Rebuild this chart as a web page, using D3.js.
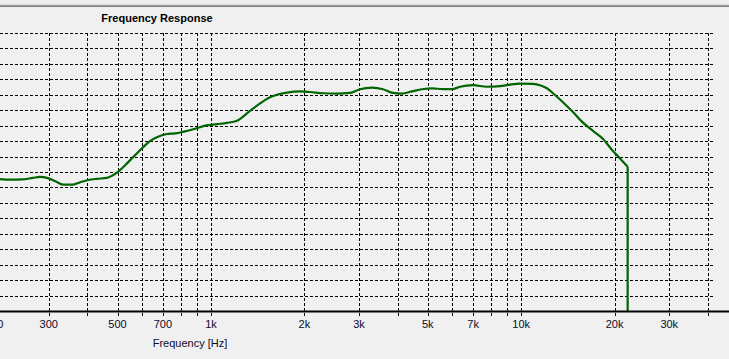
<!DOCTYPE html>
<html>
<head>
<meta charset="utf-8">
<script src="https://cdn.jsdelivr.net/npm/d3@7"></script>
<style>
  html, body { margin: 0; padding: 0; background: #f0f0f0; }
  svg { display: block; }
  text { font-family: "Liberation Sans", Arial, sans-serif; }
</style>
</head>
<body>
<svg id="chart" width="729" height="359"></svg>
<script>
var freqs = [209, 225, 246, 267, 281, 298, 314, 334, 357, 379, 402, 429, 462, 480, 498,
             529, 561, 600, 636, 675, 722, 766, 813, 889, 957, 1046, 1126, 1213, 1336, 1439,
             1527, 1632, 1758, 1936, 2086, 2297, 2548, 2806, 3022, 3304, 3585, 3862, 4128,
             4447, 4789, 5158, 5596, 5982, 6349, 6993, 7756, 8543, 9200, 9909, 10911, 11494,
             12105, 12656, 13633, 14682, 15817, 17034, 18346, 19759, 20809, 22032];
var levels = [62.7, 62.5, 62.6, 63.1, 63.4, 63.0, 62.1, 60.9, 60.9, 61.7, 62.4, 62.8, 63.1, 63.8, 64.8,
              67.2, 69.8, 72.7, 75.0, 76.4, 77.3, 77.5, 78.0, 79.0, 80.0, 80.5, 80.9, 81.6, 84.8, 87.2,
              88.9, 90.0, 90.7, 91.1, 90.9, 90.5, 90.4, 90.6, 91.8, 92.3, 91.8, 90.6, 90.4,
              91.1, 91.8, 92.1, 91.8, 91.8, 92.6, 93.1, 92.6, 92.8, 93.3, 93.6, 93.5, 93.1,
              92.1, 90.5, 87.6, 84.4, 81.0, 78.3, 75.7, 71.8, 69.4, 66.7];
// the response is cut off here and falls to the floor
var cutoffLevel = 20;

// axis ticks
var xGrid = [200, 300, 400, 500, 600, 700, 800, 900, 1000, 2000, 3000, 4000, 5000, 6000,
             7000, 8000, 9000, 10000, 20000, 30000, 40000];
var xLabelled = [200, 300, 500, 700, 1000, 2000, 3000, 5000, 7000, 10000, 20000, 30000];
var yGrid = d3.range(25, 111, 5);

var title = "Frequency Response";
var xTitle = "Frequency [Hz]";

var W = 729, H = 359;
var plot = {left: -44.7, right: 714.6, top: 33, bottom: 311};

var svg = d3.select("#chart");

// window separator at the top
svg.append("rect").attr("x", 0).attr("y", 4).attr("width", W).attr("height", 1).attr("fill", "#dadada");
svg.append("rect").attr("x", 0).attr("y", 5).attr("width", W).attr("height", 1).attr("fill", "#a0a0a0");
svg.append("rect").attr("x", 0).attr("y", 6).attr("width", W).attr("height", 1).attr("fill", "#808080");

var x = d3.scaleLog().domain([150, 42000]).range([plot.left, plot.right]);
var y = d3.scaleLinear().domain([20, 110]).range([plot.bottom, plot.top]);

// horizontal grid
svg.append("g").attr("class", "grid-y")
  .selectAll("line")
  .data(yGrid)
  .enter().append("line")
    .attr("x1", 0)
    .attr("x2", plot.right)
    .attr("y1", d => Math.round(y(d)) + 0.5)
    .attr("y2", d => Math.round(y(d)) + 0.5)
    .attr("stroke", "#000")
    .attr("stroke-dasharray", "3,2");

// vertical grid, running past the axis as tick marks
svg.append("g").attr("class", "grid-x")
  .selectAll("line")
  .data(xGrid)
  .enter().append("line")
    .attr("x1", d => Math.round(x(d)) + 0.5)
    .attr("x2", d => Math.round(x(d)) + 0.5)
    .attr("y1", plot.top)
    .attr("y2", plot.bottom + 6)
    .attr("stroke", "#000")
    .attr("stroke-dasharray", "3,2");

// x axis labels
var fmt = d => d >= 1000 ? (d / 1000) + "k" : String(d);
svg.append("g").attr("class", "axis-x")
  .selectAll("text")
  .data(xLabelled)
  .enter().append("text")
    .attr("x", d => x(d))
    .attr("y", plot.bottom + 17)
    .attr("text-anchor", "middle")
    .attr("font-size", "11px")
    .attr("fill", "#0c0c28")
    .text(fmt);

// data
var pts = freqs.map((f, i) => [f, levels[i]]);
var line = d3.line()
  .x(d => x(d[0]))
  .y(d => y(d[1]))
  .curve(d3.curveMonotoneX);

svg.append("path")
  .datum(pts)
  .attr("fill", "none")
  .attr("stroke", "#006400")
  .attr("stroke-width", 2.2)
  .attr("d", line);

var last = pts[pts.length - 1];
svg.append("path")
  .datum([last, [last[0], cutoffLevel]])
  .attr("fill", "none")
  .attr("stroke", "#006400")
  .attr("stroke-width", 2.2)
  .attr("d", line.curve(d3.curveLinear));

// axis line
svg.append("line")
  .attr("x1", 0).attr("x2", W)
  .attr("y1", plot.bottom + 0.5).attr("y2", plot.bottom + 0.5)
  .attr("stroke", "#000")
  .attr("stroke-width", 2);

// titles
svg.append("text")
  .attr("x", 157)
  .attr("y", 22)
  .attr("text-anchor", "middle")
  .attr("font-size", "11px")
  .attr("font-weight", "bold")
  .attr("fill", "#000")
  .text(title);

svg.append("text")
  .attr("x", 190)
  .attr("y", 347)
  .attr("text-anchor", "middle")
  .attr("font-size", "11px")
  .attr("fill", "#0c0c28")
  .text(xTitle);
</script>
</body>
</html>
